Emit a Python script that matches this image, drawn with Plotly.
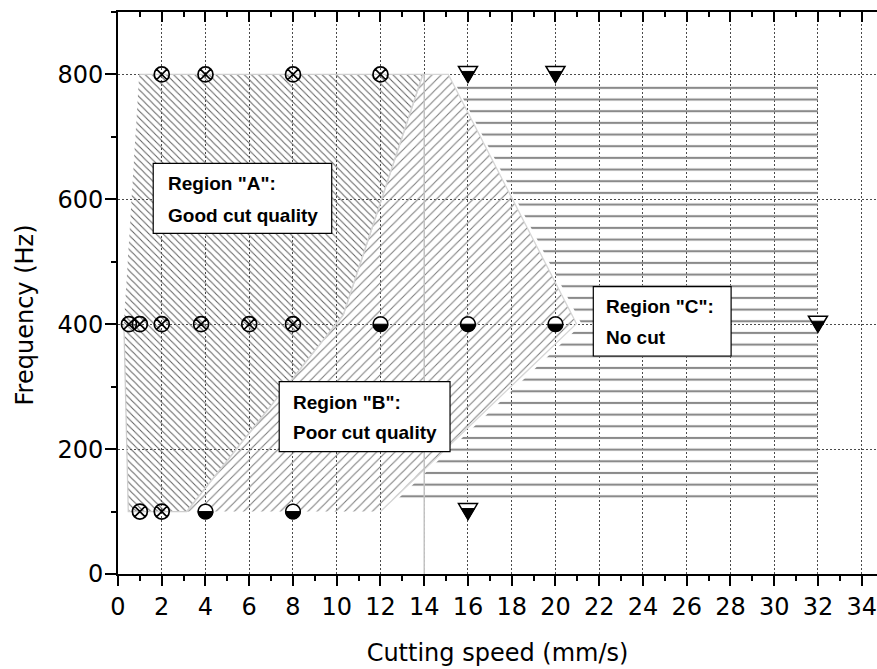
import numpy as np
import plotly.graph_objects as go

# ---------------- data ----------------
cross_speed = [2, 4, 8, 12, 0.5, 1, 2, 3.8, 6, 8, 1, 2]
cross_freq = [800, 800, 800, 800, 400, 400, 400, 400, 400, 400, 100, 100]

half_circle_speed = [12, 16, 20, 4, 8]
half_circle_freq = [400, 400, 400, 100, 100]

triangle_speed = [16, 20, 32, 16]
triangle_freq = [800, 800, 400, 100]

region_a_speed = [0.97, 13.94, 10.3, 3.14, 0.47, 0.27]
region_a_freq = [800, 800, 415, 100, 100, 400]
region_b_speed = [3.14, 10.3, 13.94, 15.1, 20.96, 12.0]
region_b_freq = [100, 415, 800, 800, 401, 100]
region_c_speed = [15.35, 32.0, 32.0, 12.55, 21.2]
region_c_freq = [790, 790, 112, 112, 400]
divider_speed = [14, 14]
divider_freq = [0, 800]

x_ticks = list(range(0, 35, 2))
y_ticks = [0, 200, 400, 600, 800]

region_labels = [
    ('Region "A":', 'Good cut quality'),
    ('Region "B":', 'Poor cut quality'),
    ('Region "C":', 'No cut'),
]

# ---------------- figure ----------------
fig = go.Figure()

fig.add_trace(go.Scatter(
    x=region_a_speed, y=region_a_freq, mode="lines", fill="toself",
    fillcolor="rgba(0,0,0,0)",
    fillpattern=dict(shape="\\", size=5, solidity=0.2, fgcolor="#606060",
                     bgcolor="rgba(0,0,0,0)", fgopacity=1),
    line=dict(color="#cfcfcf", width=1.3), hoverinfo="skip", showlegend=False))

fig.add_trace(go.Scatter(
    x=region_b_speed, y=region_b_freq, mode="lines", fill="toself",
    fillcolor="rgba(0,0,0,0)",
    fillpattern=dict(shape="/", size=6.5, solidity=0.16, fgcolor="#7c7c7c",
                     bgcolor="rgba(0,0,0,0)", fgopacity=1),
    line=dict(color="#d6d6d6", width=1.3), hoverinfo="skip", showlegend=False))

fig.add_trace(go.Scatter(
    x=region_c_speed, y=region_c_freq, mode="lines", fill="toself",
    fillcolor="rgba(0,0,0,0)",
    fillpattern=dict(shape="-", size=11.67, solidity=0.18, fgcolor="#8a8a8a",
                     bgcolor="rgba(0,0,0,0)", fgopacity=1),
    line=dict(width=0, color="rgba(0,0,0,0)"), hoverinfo="skip", showlegend=False))

fig.add_trace(go.Scatter(
    x=divider_speed, y=divider_freq, mode="lines",
    line=dict(color="#c4c4c4", width=1.5), hoverinfo="skip", showlegend=False))

fig.add_trace(go.Scatter(
    x=cross_speed, y=cross_freq, mode="markers",
    marker=dict(symbol="circle-x-open", size=15, color="black",
                line=dict(width=1.7, color="black")),
    showlegend=False))

# invisible trace to activate the mirrored top axis
fig.add_trace(go.Scatter(x=divider_speed, y=divider_freq, xaxis="x2",
                         mode="lines", line=dict(width=0), opacity=0,
                         hoverinfo="skip", showlegend=False))

# ---------------- half-filled marker shapes (pixel sized) ----------------
def poly_path(pts):
    return "M " + " L ".join(f"{px:.2f},{py:.2f}" for px, py in pts) + " Z"

R = 7.3
ang_full = np.linspace(0, 2 * np.pi, 61)[:-1]
circle_pts = [(R * np.cos(a), R * np.sin(a)) for a in ang_full]
ang_low = np.linspace(np.pi, 2 * np.pi, 31)
lower_pts = [(R * np.cos(a), R * np.sin(a)) for a in ang_low]

TW, TH, BAND = 9.5, 8.0, 5.0
tri_pts = [(-TW, TH), (TW, TH), (0, -TH)]
sub = (2 * TH - BAND) / (2 * TH)
tri_low = [(-TW * sub, TH - BAND), (TW * sub, TH - BAND), (0, -TH)]

shapes = []
for xv, yv in zip(half_circle_speed, half_circle_freq):
    base = dict(type="path", xref="x", yref="y", xsizemode="pixel",
                ysizemode="pixel", xanchor=xv, yanchor=yv)
    shapes.append(dict(base, path=poly_path(circle_pts), fillcolor="white",
                       line=dict(color="black", width=1.5)))
    shapes.append(dict(base, path=poly_path(lower_pts), fillcolor="black",
                       line=dict(color="black", width=1)))
for xv, yv in zip(triangle_speed, triangle_freq):
    base = dict(type="path", xref="x", yref="y", xsizemode="pixel",
                ysizemode="pixel", xanchor=xv, yanchor=yv)
    shapes.append(dict(base, path=poly_path(tri_pts), fillcolor="white",
                       line=dict(color="black", width=1.5)))
    shapes.append(dict(base, path=poly_path(tri_low), fillcolor="black",
                       line=dict(color="black", width=1)))

# label boxes (data coordinates of box corners)
boxes = [(1.61, 9.77, 545.6, 657.7), (7.37, 15.18, 195.9, 308.0),
         (21.73, 28.03, 349.1, 460.1)]
for x0, x1, y0, y1 in boxes:
    shapes.append(dict(type="rect", xref="x", yref="y", x0=x0, x1=x1, y0=y0,
                       y1=y1, fillcolor="white",
                       line=dict(color="black", width=1.2)))

label_pos = [(2.18, 624.6, 574.0), (7.9, 275.0, 227.0), (22.22, 428.2, 379.0)]
label_font = dict(family="Liberation Sans, Arial, sans-serif", size=19, color="black")
annotations = []
for (l1, l2), (xl, ya, yb) in zip(region_labels, label_pos):
    annotations.append(dict(x=xl, y=ya, xref="x", yref="y", text=f"<b>{l1}</b>",
                            showarrow=False, xanchor="left", yanchor="middle",
                            font=label_font))
    annotations.append(dict(x=xl, y=yb, xref="x", yref="y", text=f"<b>{l2}</b>",
                            showarrow=False, xanchor="left", yanchor="middle",
                            font=label_font))

annotations.append(dict(x=-0.1219, y=414.8, xref="paper", yref="y",
                        text="Frequency (Hz)", textangle=-90, showarrow=False,
                        xanchor="center", yanchor="middle",
                        font=dict(family="DejaVu Sans", size=24, color="black")))

axis_font = dict(family="DejaVu Sans", size=24, color="black")
grid_style = dict(showgrid=True, gridcolor="#4a4a4a", gridwidth=1, griddash="2px,2px")

fig.update_layout(
    width=877, height=669,
    margin=dict(l=118, r=0, t=12, b=95),
    plot_bgcolor="white", paper_bgcolor="white",
    showlegend=False, hovermode=False,
    shapes=shapes, annotations=annotations,
    xaxis=dict(range=[0, 34.7], tickvals=x_ticks, ticks="outside", ticklen=10,
               tickwidth=2, tickcolor="black", showline=True, linewidth=2,
               linecolor="black", zeroline=False, tickfont=axis_font,
               automargin=False,
               minor=dict(dtick=1, tick0=0, ticks="outside", ticklen=5, tickwidth=2,
                          tickcolor="black", showgrid=False),
               title=dict(text="Cutting speed (mm/s)", font=axis_font, standoff=24),
               **grid_style),
    xaxis2=dict(overlaying="x", side="top", matches="x", tickvals=x_ticks,
                ticks="inside", ticklen=10, tickwidth=2, tickcolor="black",
                showline=True, linewidth=2, linecolor="black", automargin=False,
                showticklabels=False, showgrid=False, zeroline=False,
                minor=dict(dtick=1, tick0=0, ticks="inside", ticklen=5, tickwidth=2,
                           tickcolor="black", showgrid=False)),
    yaxis=dict(range=[0, 900], tickvals=y_ticks, ticks="outside", ticklen=11,
               tickwidth=2, tickcolor="black", showline=True, linewidth=2,
               linecolor="black", zeroline=False, tickfont=axis_font,
               ticklabelstandoff=-3, automargin=False,
               minor=dict(dtick=100, tick0=0, ticks="outside", ticklen=5, tickwidth=2,
                          tickcolor="black", showgrid=False),
               **grid_style),
)

fig.write_html("out.html", config={"displayModeBar": False},
               post_script="document.body.style.margin='0px';"
                           "document.body.style.overflow='hidden';")
